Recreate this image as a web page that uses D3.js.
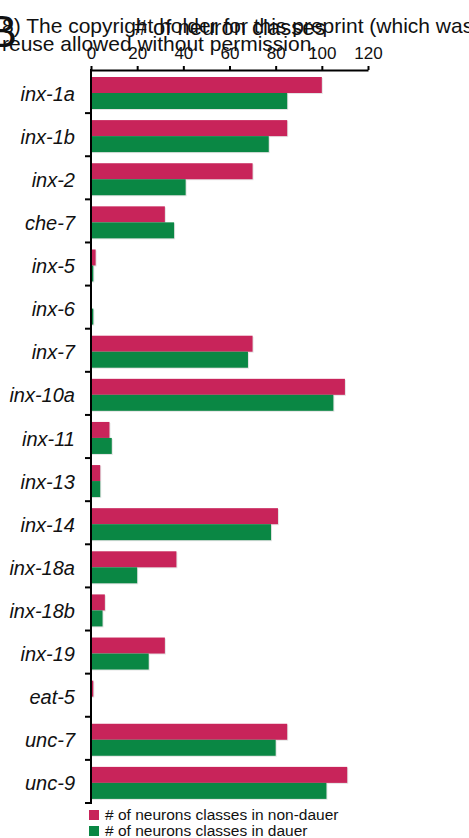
<html>
	<head>
		<meta charset="utf-8">
		<script src="https://d3js.org/d3.v7.min.js"></script>
		<style>
			body { margin: 0; background: #fff; }
			text { font-family: "Liberation Sans", Arial, sans-serif; fill: #111; }
		</style>
	</head>
	<body>
		<script>
// data
			let genes = ["inx-1a", "inx-1b", "inx-2", "che-7", "inx-5", "inx-6", "inx-7", "inx-10a", "inx-11",
				"inx-13", "inx-14", "inx-18a", "inx-18b", "inx-19", "eat-5", "unc-7", "unc-9"];
			let nonDauer = [100, 85, 70, 32, 2, 0, 70, 110, 8, 4, 81, 37, 6, 32, 1, 85, 111];
			let dauer = [85, 77, 41, 36, 1, 1, 68, 105, 9, 4, 78, 20, 5, 25, 0, 80, 102];
			let xTicks = [0, 20, 40, 60, 80, 100, 120];
			let seriesNames = ["# of neurons classes in non-dauer", "# of neurons classes in dauer"];
			let seriesColors = ["#c8245a", "#0a8744"];

			let width = 469, height = 838;
			let plot = {left: 91, right: 368, top: 70, bottom: 803};

			var svg = d3.select("body").append("svg")
				.attr("width", width)
				.attr("height", height);

			// header fragments from the page (partly hidden in the original)
			svg.append("text")
				.attr("x", -13).attr("y", 47)
				.attr("font-size", 45)
				.text("B");
			svg.append("text")
				.attr("x", 2).attr("y", 33)
				.attr("font-size", 21)
				.text("8) The copyright holder for this preprint (which was");
			svg.append("text")
				.attr("x", 2).attr("y", 51)
				.attr("font-size", 21)
				.text("reuse allowed without permission.");

			var x = d3.scaleLinear().domain([0, 120]).range([plot.left, plot.right]);
			var y = d3.scaleBand().domain(genes).range([plot.top, plot.bottom]);
			var inner = d3.scaleBand().domain([0, 1]).range([7, 39]);

			// axis title
			svg.append("text")
				.attr("x", 230)
				.attr("y", 35)
				.attr("text-anchor", "middle")
				.attr("font-size", 22)
				.text("# of neuron classes");

			// x axis on top
			var xAxis = svg.append("g")
				.attr("transform", "translate(0," + plot.top + ")")
				.call(d3.axisTop(x).tickValues(xTicks).tickSize(4).tickPadding(7).tickSizeOuter(0));
			xAxis.select(".domain").attr("stroke-width", 2).attr("stroke", "#000");
			xAxis.selectAll(".tick line").attr("stroke-width", 2).attr("stroke", "#000");
			xAxis.selectAll(".tick text")
				.attr("font-size", 17)
				.attr("font-family", "Liberation Sans, Arial, sans-serif")
				.attr("fill", "#111");

			// bars
			var rows = genes.map((g, i) => ({gene: g, vals: [nonDauer[i], dauer[i]]}));
			var rowG = svg.append("g").selectAll("g")
				.data(rows)
				.join("g")
					.attr("transform", d => "translate(0," + y(d.gene) + ")");

			rowG.selectAll("rect.shadow")
				.data(d => d.vals.map((v, k) => ({v: v, k: k})))
				.join("rect")
					.attr("class", "shadow")
					.attr("x", x(0) + 1)
					.attr("y", d => inner(d.k) + 1)
					.attr("width", d => Math.max(0, x(d.v) - x(0)))
					.attr("height", inner.bandwidth())
					.attr("fill", "#e4e4e4");

			rowG.selectAll("rect.bar")
				.data(d => d.vals.map((v, k) => ({v: v, k: k})))
				.join("rect")
					.attr("class", "bar")
					.attr("x", x(0))
					.attr("y", d => inner(d.k))
					.attr("width", d => Math.max(0, x(d.v) - x(0)))
					.attr("height", inner.bandwidth())
					.attr("fill", d => seriesColors[d.k]);

			// y axis with ticks between categories
			var yLine = svg.append("g");
			yLine.append("line")
				.attr("x1", plot.left).attr("x2", plot.left)
				.attr("y1", plot.top - 1).attr("y2", plot.bottom + 1)
				.attr("stroke", "#000").attr("stroke-width", 2);
			var bounds = genes.slice(1).map(g => y(g)).concat([plot.bottom]);
			yLine.selectAll("line.tk")
				.data(bounds)
				.join("line")
					.attr("class", "tk")
					.attr("x1", plot.left - 6).attr("x2", plot.left)
					.attr("y1", d => d).attr("y2", d => d)
					.attr("stroke", "#000").attr("stroke-width", 2);

			svg.append("g").selectAll("text")
				.data(genes)
				.join("text")
					.attr("x", 75)
					.attr("y", d => y(d) + y.bandwidth() / 2 + 2)
					.attr("dy", "0.35em")
					.attr("text-anchor", "end")
					.attr("font-size", 20)
					.attr("font-style", "italic")
					.text(d => d);

			// legend
			var leg = svg.append("g").selectAll("g")
				.data(seriesNames)
				.join("g")
					.attr("transform", (d, i) => "translate(89," + (810 + i * 16) + ")");
			leg.append("rect")
				.attr("width", 10).attr("height", 10)
				.attr("fill", (d, i) => seriesColors[i]);
			leg.append("text")
				.attr("x", 16).attr("y", 5)
				.attr("dy", "0.35em")
				.attr("font-size", 15.5)
				.text(d => d);
		</script>
	</body>
</html>
